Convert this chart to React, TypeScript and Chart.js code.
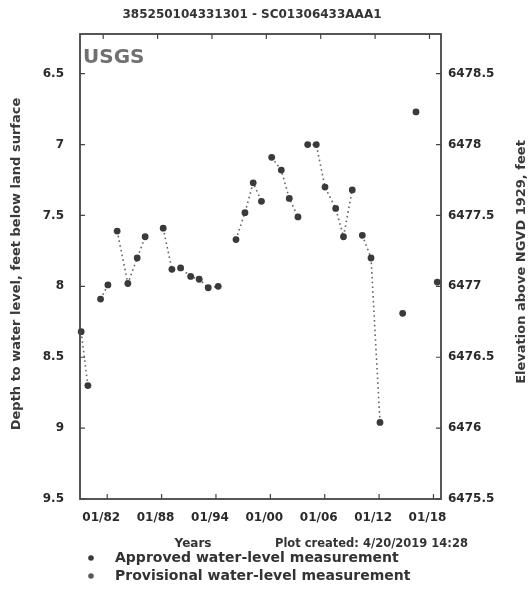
import React, { useEffect, useRef } from "react";
import { Chart, registerables } from "chart.js";

Chart.register(...registerables);

const chartTitle = "385250104331301 - SC01306433AAA1";
const leftAxisTitle = "Depth to water level, feet below land surface";
const rightAxisTitle = "Elevation above NGVD 1929, feet";
const xAxisTitle = "Years";
const plotCreated = "Plot created: 4/20/2019 14:28";
const agencyLabel = "USGS";
const legendLabels = ["Approved water-level measurement", "Provisional water-level measurement"];

// decimal years of each measurement
const years = [
  1979.13, 1979.87, 1981.27, 1982.08, 1983.1, 1984.28, 1985.31, 1986.19, 1988.18, 1989.14,
  1990.1, 1991.21, 1992.15, 1993.15, 1994.25, 1996.21, 1997.2, 1998.11, 1999.02, 2000.15,
  2001.21, 2002.09, 2003.05, 2004.12, 2005.07, 2006.03, 2007.21, 2008.07, 2009.04, 2010.15,
  2011.11, 2012.1, 2014.6, 2016.07, 2018.42,
];
// depth to water, feet below land surface
const depths = [
  8.32, 8.7, 8.09, 7.99, 7.61, 7.98, 7.8, 7.65, 7.59, 7.88,
  7.87, 7.93, 7.95, 8.01, 8.0, 7.67, 7.48, 7.27, 7.4, 7.09,
  7.18, 7.38, 7.51, 7.0, 7.0, 7.3, 7.45, 7.65, 7.32, 7.64,
  7.8, 8.96, 8.19, 6.77, 7.97,
];
// measurement indexes after which the record has a gap (no connecting line)
const gapAfter = [1, 3, 7, 14, 18, 22, 28, 31, 32, 33];
const provisionalYears: number[] = [];
const provisionalDepths: number[] = [];

const yearTicks = [1982, 1988, 1994, 2000, 2006, 2012, 2018];
const depthTicks = [6.5, 7, 7.5, 8, 8.5, 9, 9.5];
const elevationTicks = [6475.5, 6476, 6476.5, 6477, 6477.5, 6478, 6478.5];
const landSurfaceElevation = 6485;
const depthMin = 6.22;
const depthMax = 9.5;
const yearMin = 1979.0;
const yearMax = 2018.83;

const FONT = "'DejaVu Sans', 'Noto Sans', sans-serif";
const TEXT = "#333";

const decorations = {
  id: "decorations",
  afterDraw(chart: any) {
    const { ctx, chartArea } = chart;
    const { left, right, top, bottom } = chartArea;
    const sx = chart.scales.x;
    const sy = chart.scales.y;
    const sy2 = chart.scales.y2;
    ctx.save();
    // frame
    ctx.strokeStyle = "#444";
    ctx.lineWidth = 1.8;
    ctx.strokeRect(left, top, right - left, bottom - top);
    // inward ticks
    ctx.lineWidth = 1.2;
    ctx.beginPath();
    depthTicks.forEach((v) => {
      const p = sy.getPixelForValue(v);
      ctx.moveTo(left, p);
      ctx.lineTo(left + 5, p);
    });
    elevationTicks.forEach((v) => {
      const p = sy2.getPixelForValue(v);
      ctx.moveTo(right, p);
      ctx.lineTo(right - 5, p);
    });
    yearTicks.forEach((v) => {
      const p = sx.getPixelForValue(v);
      ctx.moveTo(p, bottom);
      ctx.lineTo(p, bottom - 5);
      ctx.moveTo(p - 4, top);
      ctx.lineTo(p - 4, top + 5);
    });
    ctx.stroke();

    ctx.fillStyle = TEXT;
    ctx.textBaseline = "middle";
    // title
    ctx.font = `bold 12px ${FONT}`;
    ctx.textAlign = "center";
    ctx.fillText(chartTitle, 252, 15);
    // USGS
    ctx.font = `bold 20px ${FONT}`;
    ctx.textAlign = "left";
    ctx.textBaseline = "alphabetic";
    ctx.fillStyle = "#707070";
    ctx.fillText(agencyLabel, left + 3, 63);
    // bottom texts
    ctx.fillStyle = TEXT;
    ctx.textBaseline = "middle";
    ctx.font = `bold 12px ${FONT}`;
    ctx.textAlign = "center";
    ctx.fillText(xAxisTitle, 193, 544);
    ctx.font = `bold 11.5px ${FONT}`;
    ctx.textAlign = "left";
    ctx.fillText(plotCreated, 275, 544);
    // axis titles
    ctx.font = `bold 13px ${FONT}`;
    ctx.textAlign = "center";
    ctx.fillStyle = "#3a3a3a";
    ctx.save();
    ctx.translate(17, 264);
    ctx.rotate(-Math.PI / 2);
    ctx.fillText(leftAxisTitle, 0, 0);
    ctx.restore();
    ctx.save();
    ctx.translate(522, 262);
    ctx.rotate(-Math.PI / 2);
    ctx.fillText(rightAxisTitle, 0, 0);
    ctx.restore();
    // legend
    ctx.font = `bold 14px ${FONT}`;
    ctx.textAlign = "left";
    chart.data.datasets.forEach((ds: any, i: number) => {
      const cy = 558 + i * 18;
      ctx.fillStyle = ds.pointBackgroundColor;
      ctx.beginPath();
      ctx.arc(91, cy, 2.8, 0, Math.PI * 2);
      ctx.fill();
      ctx.fillStyle = TEXT;
      ctx.fillText(ds.label, 115, cy);
    });
    ctx.restore();
  },
};

export default function App() {
  const ref = useRef<HTMLCanvasElement | null>(null);
  useEffect(() => {
    if (!ref.current) return;
    const tickFont = { family: FONT, weight: "bold" as const, size: 12 };
    const chart = new Chart(ref.current, {
      type: "line",
      data: {
        datasets: [
          {
            label: legendLabels[0],
            data: years.map((x, i) => ({ x, y: depths[i] })),
            xAxisID: "x",
            yAxisID: "y",
            showLine: true,
            borderColor: "#555",
            borderWidth: 1.6,
            borderDash: [1.6, 3.2],
            pointRadius: 3.4,
            pointBorderWidth: 0,
            pointBackgroundColor: "#3a3a3a",
            clip: 8,
            segment: {
              borderColor: (c: any) => (gapAfter.includes(c.p0DataIndex) ? "rgba(0,0,0,0)" : "#666"),
            },
          } as any,
          {
            label: legendLabels[1],
            data: provisionalYears.map((x, i) => ({ x, y: provisionalDepths[i] })),
            xAxisID: "x",
            yAxisID: "y",
            showLine: false,
            pointRadius: 3.3,
            pointBorderWidth: 0,
            pointBackgroundColor: "#5a5a5a",
          } as any,
        ],
      },
      options: {
        animation: false,
        responsive: true,
        maintainAspectRatio: false,
        layout: { padding: 0 },
        plugins: { legend: { display: false }, tooltip: { enabled: false }, title: { display: false } },
        scales: {
          x: {
            type: "linear",
            position: "bottom",
            min: yearMin,
            max: yearMax,
            afterBuildTicks: (s: any) => {
              s.ticks = yearTicks.map((v) => ({ value: v }));
            },
            afterFit: (s: any) => {
              s.height = 100;
            },
            ticks: {
              callback: (v: any) => "01/" + String(v).slice(2),
              font: tickFont,
              color: "#2a2a2a",
              padding: 12,
              maxRotation: 0,
              autoSkip: false,
              labelOffset: -6,
            } as any,
            grid: { display: false, drawTicks: false },
            border: { display: false },
          },
          x2: {
            type: "linear",
            position: "top",
            min: yearMin,
            max: yearMax,
            afterBuildTicks: (s: any) => {
              s.ticks = yearTicks.map((v) => ({ value: v }));
            },
            afterFit: (s: any) => {
              s.height = 34;
            },
            ticks: { display: false },
            grid: { display: false, drawTicks: false },
            border: { display: false },
          },
          y: {
            type: "linear",
            position: "left",
            reverse: true,
            min: depthMin,
            max: depthMax,
            afterBuildTicks: (s: any) => {
              s.ticks = depthTicks.map((v) => ({ value: v }));
            },
            afterFit: (s: any) => {
              s.width = 80;
            },
            ticks: { callback: (v: any) => String(v), font: tickFont, color: "#2a2a2a", padding: 16 },
            grid: { display: false, drawTicks: false },
            border: { display: false },
          },
          y2: {
            type: "linear",
            position: "right",
            min: landSurfaceElevation - depthMax,
            max: landSurfaceElevation - depthMin,
            afterBuildTicks: (s: any) => {
              s.ticks = elevationTicks.map((v) => ({ value: v }));
            },
            afterFit: (s: any) => {
              s.width = 89;
            },
            ticks: { callback: (v: any) => String(v), font: tickFont, color: "#2a2a2a", padding: 7 },
            grid: { display: false, drawTicks: false },
            border: { display: false },
          },
        },
      } as any,
      plugins: [decorations],
    });
    return () => chart.destroy();
  }, []);
  return (
    <div style={{ position: "fixed", left: 0, top: 0, width: 530, height: 599, background: "#fff" }}>
      <canvas ref={ref} />
    </div>
  );
}
